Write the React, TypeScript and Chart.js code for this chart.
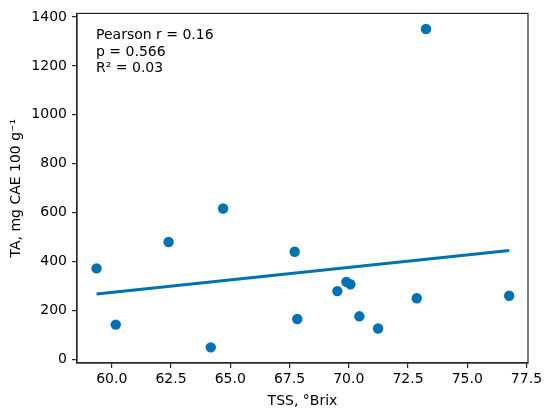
import React, { useEffect, useRef } from "react";
import { Chart, registerables } from "chart.js";

Chart.register(...registerables);

const tssValues = [59.36, 60.17, 62.4, 64.18, 64.7, 67.72, 67.83, 69.52, 69.9, 70.07, 70.45, 71.24, 72.87, 73.26, 76.77];
const taValues = [372, 142, 480, 49, 617, 440, 165, 279, 317, 307, 176, 126, 250, 1351, 260];
const fitX = [59.36, 76.77];
const fitY = [267, 445];
const xTicks = [60, 62.5, 65, 67.5, 70, 72.5, 75, 77.5];
const yTicks = [0, 200, 400, 600, 800, 1000, 1200, 1400];
const statLines = ["Pearson r = 0.16", "p = 0.566", "R\u00b2 = 0.03"];
const xTitle = "TSS, \u00b0Brix";
const yTitle = "TA, mg CAE 100 g\u207b\u00b9";

const BLUE = "#0072B2";
const FONT = "'DejaVu Sans', sans-serif";

export default function App() {
  const ref = useRef<HTMLCanvasElement | null>(null);

  useEffect(() => {
    document.body.style.margin = "0";
    const canvas = ref.current;
    if (!canvas) return;

    const boxPlugin = {
      id: "boxAndText",
      afterDatasetsDraw(chart: any) {
        const { ctx, chartArea } = chart;
        ctx.save();
        ctx.strokeStyle = "#262626";
        ctx.lineWidth = 1.2;
        ctx.strokeRect(chartArea.left, chartArea.top, chartArea.right - chartArea.left, chartArea.bottom - chartArea.top);
        ctx.fillStyle = "#000";
        ctx.font = `14px ${FONT}`;
        ctx.textBaseline = "alphabetic";
        ctx.textAlign = "left";
        statLines.forEach((t, i) => {
          ctx.fillText(t, chartArea.left + 19, chartArea.top + 26 + i * 16.4);
        });
        ctx.restore();
      },
    };

    const chart = new Chart(canvas, {
      type: "scatter",
      data: {
        datasets: [
          {
            type: "line",
            data: fitX.map((x, i) => ({ x, y: fitY[i] })),
            borderColor: BLUE,
            borderWidth: 3,
            pointRadius: 0,
            fill: false,
            order: 2,
          } as any,
          {
            type: "scatter",
            data: tssValues.map((x, i) => ({ x, y: taValues[i] })),
            backgroundColor: BLUE,
            borderColor: BLUE,
            borderWidth: 0,
            pointRadius: 5.2,
            order: 1,
          },
        ],
      },
      options: {
        animation: false,
        responsive: false,
        devicePixelRatio: 1,
        layout: { padding: { left: 0, right: 22, top: 10, bottom: 0 } },
        plugins: { legend: { display: false }, tooltip: { enabled: false } },
        scales: {
          x: {
            type: "linear",
            min: 58.535,
            max: 77.565,
            afterFit: (s: any) => {
              s.height = 52;
            },
            afterBuildTicks: (s: any) => {
              s.ticks = xTicks.map((v) => ({ value: v }));
            },
            grid: { drawOnChartArea: false, drawTicks: true, tickLength: 5, color: "#262626", lineWidth: 1.2 },
            border: { display: true, color: "#262626", width: 1.2 },
            ticks: {
              color: "#000",
              font: { family: FONT, size: 14 },
              padding: 3,
              maxRotation: 0,
              autoSkip: false,
              callback: (v: any) => Number(v).toFixed(1),
            },
            title: {
              display: true,
              text: xTitle,
              color: "#000",
              font: { family: FONT, size: 14 },
              padding: { top: 0, bottom: 5 },
            },
          },
          y: {
            type: "linear",
            min: -15,
            max: 1415,
            afterFit: (s: any) => {
              s.width = 77;
            },
            afterBuildTicks: (s: any) => {
              s.ticks = yTicks.map((v) => ({ value: v }));
            },
            grid: { drawOnChartArea: false, drawTicks: true, tickLength: 5, color: "#262626", lineWidth: 1.2 },
            border: { display: true, color: "#262626", width: 1.2 },
            ticks: {
              color: "#000",
              font: { family: FONT, size: 14 },
              padding: 5,
              autoSkip: false,
              callback: (v: any) => String(v),
            },
            title: {
              display: true,
              text: yTitle,
              color: "#000",
              font: { family: FONT, size: 14 },
              padding: { top: 8, bottom: 0 },
            },
          },
        },
      },
      plugins: [boxPlugin],
    });

    return () => chart.destroy();
  }, []);

  return (
    <div style={{ width: 550, height: 415, background: "#fff" }}>
      <canvas ref={ref} width={550} height={415} style={{ display: "block" }} />
    </div>
  );
}
